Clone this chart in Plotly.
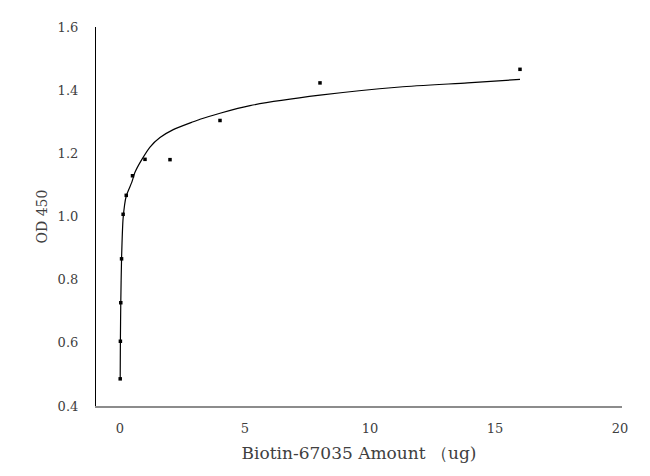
import plotly.graph_objects as go

# points mesurés
amount_ug = [0.0078, 0.0156, 0.031, 0.0625, 0.125, 0.25, 0.5, 1, 2, 4, 8, 16]
od450 = [0.486, 0.605, 0.727, 0.866, 1.007, 1.067, 1.129, 1.181, 1.180, 1.304, 1.423, 1.466]

# courbe d'ajustement
fit_x = [0.0078, 0.0156, 0.031, 0.0625, 0.125, 0.25, 0.47, 0.6, 0.87, 1.2, 1.6,
         2.13, 2.93, 3.2, 4, 5.2, 8, 11.2, 13.9, 16]
fit_y = [0.486, 0.605, 0.727, 0.866, 0.995, 1.065, 1.108, 1.14, 1.18, 1.22, 1.25,
         1.275, 1.30, 1.308, 1.327, 1.351, 1.384, 1.41, 1.423, 1.434]

FONT = "DejaVu Serif"
GREY = "#404040"

fig = go.Figure()
fig.add_trace(go.Scatter(
    x=fit_x, y=fit_y, mode="lines",
    line=dict(color="black", width=1.2, shape="spline", smoothing=0.6),
    hoverinfo="skip",
))
fig.add_trace(go.Scatter(
    x=amount_ug, y=od450, mode="markers",
    marker=dict(color="black", size=3.5, symbol="square"),
))

# la page ajoute une marge de 8px autour de la figure
fig.update_layout(
    width=650, height=476,
    paper_bgcolor="white", plot_bgcolor="white",
    showlegend=False,
    margin=dict(l=88, r=36, t=14, b=78),
    font=dict(family=FONT, size=13, color=GREY),
    xaxis=dict(
        range=[-0.96, 20.08], tickvals=[0, 5, 10, 15, 20],
        showgrid=False, zeroline=False,
        showline=True, linecolor="#8c8c8c", linewidth=1.5,
        ticks="", ticklabelstandoff=10,
        title=dict(text="Biotin-67035 Amount （ug)", standoff=12,
                   font=dict(family=FONT, size=17, color=GREY)),
    ),
    yaxis=dict(
        range=[0.4, 1.6], dtick=0.2, tickformat=".1f",
        showgrid=False, zeroline=False,
        showline=True, linecolor="black", linewidth=1.2,
        ticks="", ticklabelstandoff=14,
        title=dict(text="OD 450", standoff=6,
                   font=dict(family=FONT, size=14, color=GREY)),
    ),
)

fig.write_html("out.html")
